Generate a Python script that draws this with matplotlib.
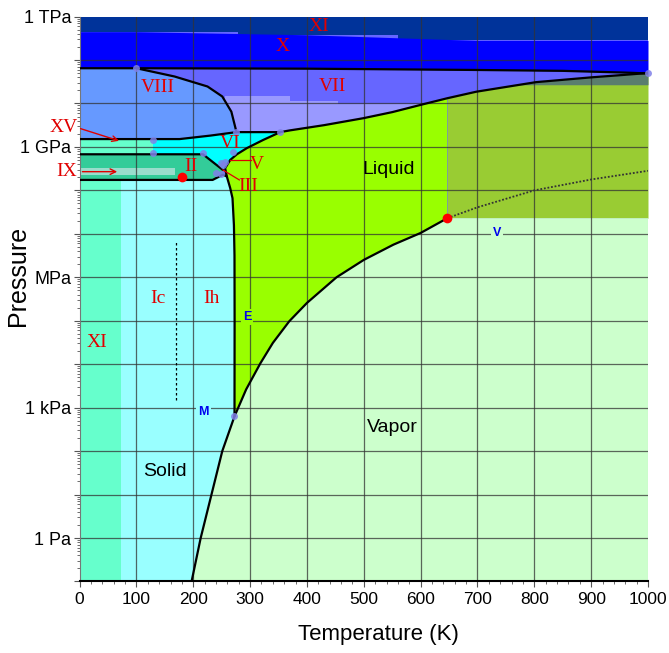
"""
Phase diagram of water (temperature vs log pressure) with the ice phases.
Writes out.png.
"""
import numpy as np
import matplotlib.pyplot as plt
from matplotlib.ticker import FixedLocator, MultipleLocator, NullFormatter

# ---- data: T in K, pressure as log10(P / Pa) ----
SUB_T = [197, 213, 232, 251, 272.5]                 # sublimation curve
SUB_LP = [-1.0, 0.0, 1.0, 2.0, 2.8]
VAP_T = [272.5, 293, 318, 340, 369, 400, 452, 500, 552, 600, 647]   # boiling curve
VAP_LP = [2.8, 3.42, 4.02, 4.49, 4.99, 5.41, 6.0, 6.40, 6.75, 7.02, 7.36]
MELT_T = [272.5, 272.7, 272.5, 271.5, 269, 265, 259, 256, 265, 276.7, 294, 323, 353]
MELT_LP = [2.8, 5.0, 6.5, 7.2, 7.82, 8.05, 8.32, 8.51, 8.70, 8.83, 8.97, 9.16, 9.34]
MELT7_T = [353, 370, 430, 499, 550, 604, 647, 698, 803, 900, 961, 1000]   # liquid / VII
MELT7_LP = [9.34, 9.38, 9.50, 9.66, 9.80, 9.98, 10.12, 10.27, 10.49, 10.60, 10.66, 10.70]
TOP_T = [0, 100, 400, 700, 850, 960, 1000]          # X / VII boundary
TOP_LP = [10.81, 10.81, 10.80, 10.77, 10.75, 10.71, 10.69]
XIX_T = [0, 278, 278, 560, 560, 1000]              # XI / X boundary
XIX_LP = [11.65, 11.65, 11.58, 11.58, 11.45, 11.45]
VIII_T = [100, 167, 225, 251, 267, 276]             # VIII / VII boundary
VIII_LP = [10.81, 10.62, 10.39, 10.16, 9.81, 9.34]
VI_T = [0, 176, 230, 276, 353]                      # top of VI / XV
VI_LP = [9.18, 9.18, 9.26, 9.34, 9.34]
II_TOP_T = [0, 217, 252]
II_TOP_LP = [8.83, 8.83, 8.47]
II_BOT_T = [0, 234, 252, 259]
II_BOT_LP = [8.24, 8.24, 8.36, 8.32]
LAV_T = [255, 370, 370, 454, 454, 620]              # light VII shading
LAV_LP = [10.16, 10.16, 10.06, 10.06, 9.99, 9.99]
SUPER_LP = 7.36     # critical pressure
SLATE_LP = 10.43
XI_T_MAX = 72.5
XV_T_MAX = 129
IX_T_MAX = 167
IX_LP = [8.36, 8.52]
CRIT_T = [647, 700, 800, 900, 1000]                 # dotted continuation
CRIT_LP = [7.36, 7.61, 8.0, 8.25, 8.45]
IC_T = 170
IC_LP = [3.18, 6.86]

PTS_T = [100, 276, 353, 1000, 129, 129, 217, 249, 252, 255, 240, 249, 269, 272.5]
PTS_LP = [10.81, 9.34, 9.34, 10.70, 9.17, 8.87, 8.87, 8.64, 8.59, 8.66, 8.41, 8.38, 8.89, 2.8]
RED_T = [647, 181]
RED_LP = [7.36, 8.31]

ROMAN = [("XI", 421, 11.76), ("X", 357, 11.32), ("VIII", 137, 10.36), ("VII", 444, 10.40),
         ("VI", 264, 9.07), ("V", 311, 8.59), ("III", 296, 8.10), ("II", 195, 8.55),
         ("Ic", 137, 5.51), ("Ih", 232, 5.51), ("XI", 30, 4.49)]
PHASES = [("Liquid", 544, 8.47), ("Vapor", 551, 2.54), ("Solid", 151, 1.53)]
POINTS = [("E", 295, 5.09, "#99FF00"), ("M", 218, 2.9, "#99FFFF"), ("V", 735, 7.02, "#CCFFCC")]

YTICK_LP = list(range(-1, 13))
YTICK_LABELS = {0: "1 Pa", 3: "1 kPa", 6: "MPa", 9: "1 GPa", 12: "1 TPa"}

# ---- colours ----
C_NAVY = "#00339A"
C_BLUE = "#0000FF"
C_VII = "#6666FF"
C_LAV = "#9999FF"
C_VIII = "#6699FF"
C_VI = "#00FFFF"
C_XV = "#66FFCC"
C_II = "#33CC99"
C_IX = "#99DDCC"
C_IH = "#99FFFF"
C_XI = "#66FFCC"
C_LIQ = "#99FF00"
C_SUPER = "#99CC33"
C_SLATE = "#5A7D6E"
C_VAP = "#CCFFCC"
C_RED = "#E00000"
C_MARK = "#8080E8"

SANS = ["Liberation Sans", "DejaVu Sans"]
SERIF = ["Liberation Serif", "DejaVu Serif"]


def P(lp):
    return 10.0 ** np.asarray(lp, dtype=float)


fig = plt.figure(figsize=(6.69, 6.53), dpi=100)
ax = fig.add_axes([0.119, 0.1095, 0.8496, 0.8652])
ax.set_yscale("log")
ax.set_xlim(0, 1000)
ax.set_ylim(P(-1), P(12))

# ---- filled regions (painter's order) ----
ax.fill_between([0, 1000], P(-1), P(12), color=C_VII, lw=0, zorder=0.5)
ax.fill_between(XIX_T, P(XIX_LP), P(12), color=C_NAVY, lw=0, zorder=0.6)
ax.fill_between(TOP_T, P(TOP_LP), P(np.interp(TOP_T, XIX_T, XIX_LP)), color=C_BLUE, lw=0, zorder=0.6)
ax.fill_between(LAV_T, P(9.0), P(LAV_LP), color=C_LAV, lw=0, zorder=0.7)

# VIII
v8_t = [0] + VIII_T + [230, 176, 0]
v8_lp = [10.81] + VIII_LP + [9.26, 9.18, 9.18]
ax.fill(v8_t, P(v8_lp), color=C_VIII, lw=0, zorder=0.8)

# liquid
liq_t = VAP_T + [647] + MELT7_T[::-1] + MELT_T[::-1]
liq_lp = VAP_LP + [10.12] + MELT7_LP[::-1] + MELT_LP[::-1]
ax.fill(liq_t, P(liq_lp), color=C_LIQ, lw=0, zorder=0.8)

# supercritical fluid and its darker upper part
m7_t = np.array(MELT7_T[6:])
m7_lp = np.array(MELT7_LP[6:])
ax.fill_between(m7_t, P(SUPER_LP), P(m7_lp), color=C_SUPER, lw=0, zorder=0.8)
ax.fill_between(m7_t, P(SLATE_LP), P(m7_lp), where=m7_lp >= SLATE_LP,
                interpolate=True, color=C_SLATE, lw=0, zorder=0.85)

# VI (cyan) and the low-temperature bands
vi_t = VI_T + MELT_T[::-1][:6] + [252, 217, 0]
vi_lp = VI_LP + MELT_LP[::-1][:6] + [8.47, 8.83, 8.83]
ax.fill(vi_t, P(vi_lp), color=C_VI, lw=0, zorder=0.8)
ax.fill_between([0, XV_T_MAX], P(8.83), P(9.18), color=C_XV, lw=0, zorder=0.85)
ii_t = II_TOP_T + II_BOT_T[::-1][1:]
ii_lp = II_TOP_LP + II_BOT_LP[::-1][1:]
ax.fill(ii_t, P(ii_lp), color=C_II, lw=0, zorder=0.85)
ax.fill_between([0, IX_T_MAX], P(IX_LP[0]), P(IX_LP[1]), color=C_IX, lw=0, zorder=0.9)

# ice Ih / XI
ih_t = [XI_T_MAX, XI_T_MAX] + II_BOT_T[1:] + MELT_T[6::-1][1:] + SUB_T[::-1]
ih_lp = [-1, 8.24] + II_BOT_LP[1:] + MELT_LP[6::-1][1:] + SUB_LP[::-1]
ax.fill(ih_t, P(ih_lp), color=C_IH, lw=0, zorder=0.8)
ax.fill_between([0, XI_T_MAX], P(-1), P(8.24), color=C_XI, lw=0, zorder=0.8)

# vapour
vap_t = SUB_T + VAP_T[1:] + [1000, 1000]
vap_lp = SUB_LP + VAP_LP[1:] + [SUPER_LP, -1]
ax.fill(vap_t, P(vap_lp), color=C_VAP, lw=0, zorder=0.8)

# ---- grid ----
for t in range(100, 1000, 100):
    ax.axvline(t, color="#333333", lw=0.9, alpha=0.75, zorder=1)
for lp in range(0, 12):
    ax.axhline(P(lp), color="#333333", lw=0.9, alpha=0.75, zorder=1)

# ---- boundary lines ----
kw = dict(color="black", lw=1.6, zorder=3, solid_capstyle="round")
for tt, ll in [(SUB_T, SUB_LP), (VAP_T, VAP_LP), (MELT_T, MELT_LP), (MELT7_T, MELT7_LP),
               (TOP_T, TOP_LP), (VIII_T, VIII_LP), (VI_T, VI_LP),
               (II_TOP_T, II_TOP_LP), (II_BOT_T, II_BOT_LP)]:
    ax.plot(tt, P(ll), **kw)
ax.plot(CRIT_T, P(CRIT_LP), color="#333333", lw=1.3, ls=(0, (1, 1)), zorder=3)
ax.plot([IC_T, IC_T], P(IC_LP), color="black", lw=0.9, ls=(0, (2, 2)), zorder=3)

ax.plot(PTS_T, P(PTS_LP), "o", ms=5, color=C_MARK, alpha=0.85, mec="none", zorder=4, clip_on=False)
ax.plot(RED_T, P(RED_LP), "o", ms=7, color="red", mec="none", zorder=4)

# ---- labels ----
for s, t, lp in ROMAN:
    ax.text(t, P(lp), s, color=C_RED, fontsize=14, family=SERIF,
            ha="center", va="center", zorder=5)
for s, t, lp in PHASES:
    ax.text(t, P(lp), s, color="black", fontsize=14, family=SANS,
            ha="center", va="center", zorder=5)
for s, t, lp, bg in POINTS:
    ax.text(t, P(lp), s, color="#0000EE", fontsize=9, fontweight="bold", family=SANS,
            ha="center", va="center", zorder=5,
            bbox=dict(boxstyle="square,pad=0.15", fc=bg, ec="none"))

# outside labels with arrows
ax.annotate("", xy=(74, P(9.12)), xytext=(-3, P(9.44)), annotation_clip=False,
            arrowprops=dict(arrowstyle="->", color=C_RED, lw=1.0), zorder=5)
ax.annotate("", xy=(71, P(8.43)), xytext=(0, P(8.43)), annotation_clip=False,
            arrowprops=dict(arrowstyle="->", color=C_RED, lw=1.0), zorder=5)
ax.text(-4, P(9.44), "XV", color=C_RED, fontsize=14, family=SERIF, ha="right", va="center", clip_on=False)
ax.text(-4, P(8.43), "IX", color=C_RED, fontsize=14, family=SERIF, ha="right", va="center", clip_on=False)
ax.plot([264, 302], P([8.69, 8.69]), color=C_RED, lw=0.9, zorder=5)
ax.plot([252, 281], P([8.47, 8.24]), color=C_RED, lw=0.9, zorder=5)

# ---- axes ----
ax.xaxis.set_major_locator(MultipleLocator(100))
ax.xaxis.set_minor_locator(MultipleLocator(20))
ax.yaxis.set_major_locator(FixedLocator(P(YTICK_LP)))
ax.yaxis.set_minor_locator(FixedLocator(
    [m * 10.0 ** e for e in range(-1, 12) for m in range(2, 10)]))
ax.yaxis.set_minor_formatter(NullFormatter())
ax.set_yticklabels([YTICK_LABELS.get(lp, "") for lp in YTICK_LP])
ax.tick_params(axis="both", which="major", direction="out", length=4, width=0.8,
               color="#555555")
ax.tick_params(axis="x", labelsize=12.5)
ax.tick_params(axis="y", labelsize=13, pad=2)
ax.tick_params(axis="both", which="minor", direction="out", length=2.5, width=0.6, color="#555555")
for lab in ax.get_xticklabels() + ax.get_yticklabels():
    lab.set_family(SANS)

ax.set_xlabel("Temperature (K)", fontsize=16, family=SANS)
ax.xaxis.set_label_coords(0.525, -0.075)
ax.set_ylabel("Pressure", fontsize=18, family=SANS)
ax.yaxis.set_label_coords(-0.088, 0.54)

for side in ("top", "right"):
    ax.spines[side].set_visible(False)
ax.spines["left"].set_color("#777777")
ax.spines["bottom"].set_linewidth(1.5)

fig.savefig("out.png", dpi=100, facecolor="white")
